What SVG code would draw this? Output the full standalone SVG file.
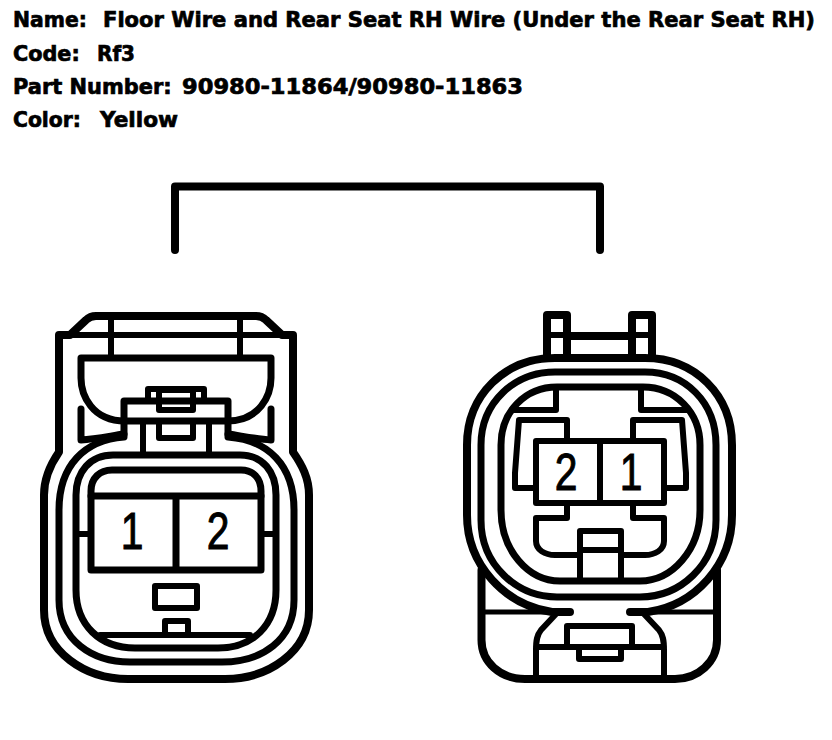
<svg xmlns="http://www.w3.org/2000/svg" width="832" height="740" viewBox="0 0 832 740">
<style>
.t{font-family:"DejaVu Sans",Verdana,sans-serif;font-weight:700;font-size:21px;fill:#000;stroke:#000;stroke-width:.7px;white-space:pre}
.n{font-family:"Liberation Sans",Arial,sans-serif;font-size:51px;fill:#000;stroke:#000;stroke-width:1px}
.k8,.k7,.k6,.k5{fill:none;stroke:#000;stroke-linejoin:round;stroke-linecap:round}
.k8{stroke-width:8}.k7{stroke-width:7}.k6{stroke-width:6}.k5{stroke-width:5}
</style>
<rect width="832" height="740" fill="#fff"/>
<g id="labels">
<text class="t" y="27"><tspan x="13" textLength="81" lengthAdjust="spacingAndGlyphs">Name: </tspan><tspan x="103" textLength="712" lengthAdjust="spacingAndGlyphs">Floor Wire and Rear Seat RH Wire (Under the Rear Seat RH)</tspan></text>
<text class="t" y="61"><tspan x="13" textLength="74" lengthAdjust="spacingAndGlyphs">Code: </tspan><tspan x="97" textLength="38" lengthAdjust="spacingAndGlyphs">Rf3</tspan></text>
<text class="t" y="94"><tspan x="13" textLength="166" lengthAdjust="spacingAndGlyphs">Part Number: </tspan><tspan x="182" textLength="341" lengthAdjust="spacingAndGlyphs">90980-11864/90980-11863</tspan></text>
<text class="t" y="127"><tspan x="13" textLength="75" lengthAdjust="spacingAndGlyphs">Color: </tspan><tspan x="100" textLength="78" lengthAdjust="spacingAndGlyphs">Yellow</tspan></text>
</g>
<g id="connectors">
<path class="k8" d="M175,250V186.500H600V250"/>
</g>
<g id="connector-left">
<path class="k8" d="M70,335H59V452C50,465 44,478 44,495V610C44,652 85,679 128,679H225C268,679 309,652 309,610V495C309,478 302,465 293,452V335H282L266,320Q262,316 256,316H96Q90,316 86,320Z"/>
<path class="k6" d="M70,335H282M111,317V358M240,317V358"/>
<path class="k7" d="M81,358H271V378C271,395 260,421 227,421H125C92,421 81,395 81,378Z"/>
<path class="k7" d="M81,409V440C96,439 110,436 124,434M271,409V440C256,439 242,436 228,434"/>
<path class="k7" d="M124,421V401H228V421M124,421V437C85,440 59,465 59,510V600C59,640 92,662 130,662H222C262,662 294,640 294,600V510C294,465 268,440 228,437V421"/>
<path class="k6" d="M148,401V389H204V401"/>
<rect class="k6" x="159" y="390" width="34" height="20"/>
<path class="k6" d="M143,421V455M209,421V455M159,421V438H193V421"/>
<path class="k7" d="M76,495C76,472 90,455 113,455H240C263,455 276,472 276,495V590C276,625 253,648 218,648H135C100,648 76,625 76,590Z"/>
<path class="k7" d="M91,496V491C91,478 100,470 112,470H241C253,470 261,478 261,491V496"/>
<path class="k7" d="M91,496H261V570H91ZM176,496V570"/>
<path class="k6" d="M76,534H91M261,534H276M100,635H250"/>
<rect class="k6" x="155" y="586" width="42" height="22"/>
<path class="k6" d="M165,635V621H188V635"/>
<text class="n" transform="translate(132 549) scale(.8 1)" text-anchor="middle">1</text>
<text class="n" transform="translate(218 549) scale(.8 1)" text-anchor="middle">2</text>
</g>
<g id="connector-right">
<path class="k8" d="M547,358V315H567V358M632,358V315H652V358"/>
<path class="k6" d="M547,335H652"/>
<path class="k8" d="M567,336H632"/>
<path class="k8" d="M570,612H552C505,605 467,565 467,515V445C467,395 505,358 555,358H645C695,358 732,395 732,445V515C732,565 695,605 648,612H630"/>
<path class="k8" d="M481.500,570V640C481.500,662 500,679 525,679H675C698,679 717,662 717,640V570"/>
<path class="k5" d="M481,612H570M630,612H717"/>
<path class="k7" d="M481,445C481,402 515,372 555,372H645C685,372 716,402 716,445V520C716,565 680,597 640,597H557C517,597 481,565 481,520Z"/>
<path class="k7" d="M501,445C501,412 525,387 557,387H643C675,387 700,412 700,445V510C700,550 672,581 640,581H560C528,581 501,550 501,510Z"/>
<path class="k6" d="M556,387V410H513M641,387V410H688"/>
<path class="k6" d="M536,441H664V503H536ZM600,441V503"/>
<path class="k6" d="M567,441V420H519L515,473V488H536M633,441V420H682L686,473V488H664"/>
<path class="k6" d="M567,503V518H536V541C536,550 545,555 555,555H580M633,503V518H664V541C664,550 655,555 645,555H621"/>
<path class="k6" d="M580,581V531H621V581M580,550H621"/>
<path class="k6" d="M556,614L541,630C537,635 536,640 536,650V679M644,614L659,630C663,635 664,640 664,650V679M536,647H664"/>
<path class="k6" d="M567,647V626H632V647M579,647V659H621V647"/>
<text class="n" transform="translate(566 490) scale(.8 1)" text-anchor="middle">2</text>
<text class="n" transform="translate(631 490) scale(.8 1)" text-anchor="middle">1</text>
</g>
</svg>
